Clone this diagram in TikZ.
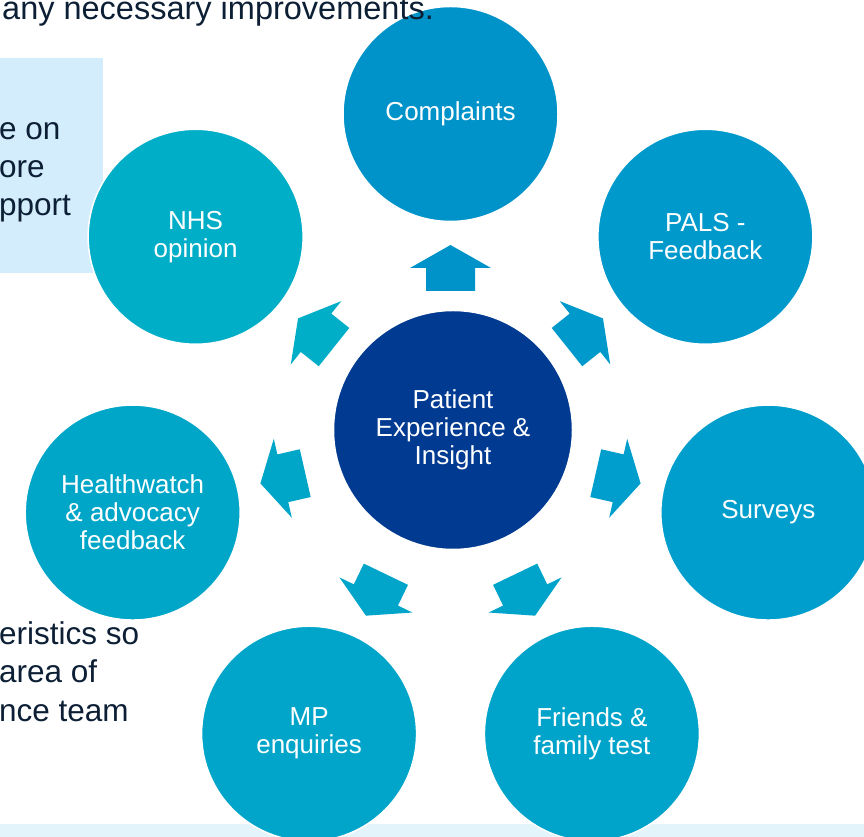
\documentclass[tikz,border=0pt]{standalone}
\usepackage{fontspec}
\setmainfont{Liberation Sans}
\usepackage{xcolor}
\usepackage{tikz}

\definecolor{hubblue}{HTML}{003A91}
\definecolor{blueA}{HTML}{0093C9}
\definecolor{blueB}{HTML}{0099CC}
\definecolor{blueC}{HTML}{009ECC}
\definecolor{tealA}{HTML}{00A3C9}
\definecolor{tealB}{HTML}{00A5C9}
\definecolor{tealC}{HTML}{00A6C8}
\definecolor{tealD}{HTML}{00AEC7}
\definecolor{boxblue}{HTML}{D3EDFD}
\definecolor{stripblue}{HTML}{E3F4FA}
\definecolor{inkblue}{HTML}{0C1F35}

\tikzset{
  bubble/.style={circle,draw=white,line width=1.5pt,minimum size=215pt,inner sep=0pt,
    text=white,align=center,font=\fontsize{26}{28}\selectfont},
  sidetext/.style={anchor=base west,inner sep=0pt,text=inkblue,font=\fontsize{31.5}{38}\selectfont}
}

\begin{document}
\begin{tikzpicture}[x=1pt,y=1pt]
\useasboundingbox (0,0) rectangle (864,837);
\clip (0,0) rectangle (864,837);
  \fill[boxblue] (0,564) rectangle (103,779);
  \fill[stripblue] (0,0) rectangle (864,13);
  \coordinate (ring) at (450.5,397);
  % arrows and the seven sources round the ring
  \foreach \a/\col/\nm/\txt in {90/blueA/compl/Complaints,
      38.57/blueB/pals/{PALS -\\Feedback},
      -12.86/blueC/surv/Surveys,
      -64.29/tealA/fft/{Friends \&\\family test},
      -115.71/tealB/mp/{MP\\enquiries},
      192.86/tealC/hwatch/{Healthwatch\\\& advocacy\\feedback},
      141.43/tealD/nhs/{NHS\\opinion}}
  {
    \begin{scope}[shift={(ring)},rotate=\a]
      \fill[\col] (149,-24.5) -- (172,-24.5) -- (172,-40.5) -- (195,0)
        -- (172,40.5) -- (172,24.5) -- (149,24.5) -- cycle;
    \end{scope}
    \path (ring) ++(\a:326) node[bubble,fill=\col] (\nm) {\txt};
  }
  \node[bubble,fill=hubblue,minimum size=239pt] (hub) at (453,407)
    {Patient\\Experience \&\\Insight};
  % cut-off slide text
  \node[sidetext,font=\fontsize{32.5}{38}\selectfont] (top) at (2,817) {any necessary improvements.};
  \node[sidetext] (l1) at (-1,697) {e on};
  \node[sidetext] (l2) at (-1,659) {ore};
  \node[sidetext] (l3) at (-1,621) {pport};
  \node[sidetext] (b1) at (-1,192) {eristics so};
  \node[sidetext] (b2) at (-1,154) {area of};
  \node[sidetext] (b3) at (-1,115) {nce team};
\end{tikzpicture}
\end{document}
